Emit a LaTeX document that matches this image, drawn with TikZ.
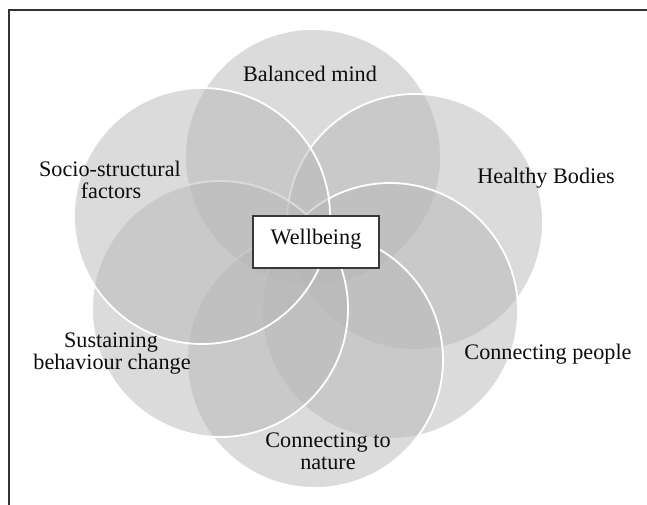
\documentclass[tikz,border=0pt]{standalone}
\usepackage{fontspec}
\setmainfont{Liberation Serif}
\begin{document}
\begin{tikzpicture}[x=1pt,y=-1pt,
  petal/.style={circle, inner sep=0pt, minimum size=256pt, fill=black!28, fill opacity=0.5, draw=white, draw opacity=1, line width=1.8pt},
  lbl/.style={font=\fontsize{22.2}{21.5}\selectfont, text=black!95, inner sep=0pt, anchor=base},
  wbox/.style={draw=black!78, line width=1.2pt, fill=white, minimum width=126pt, minimum height=52pt, inner sep=0pt, text height=10pt, text depth=6pt, font=\fontsize{22.2}{21.5}\selectfont, text=black!95},
  frameline/.style={draw=black!80, line width=1.4pt}
]
\useasboundingbox (0,0) rectangle (647,505);
\fill[white] (0,0) rectangle (647,505);
% frame
\coordinate (fl) at (9,505);
\coordinate (ftl) at (9,10);
\coordinate (ftr) at (647,10);
\draw[frameline] (fl) -- (ftl) -- (ftr);
% petals (drawn in order)
\node[petal] (cB)  at (313,157) {};
\node[petal] (cH)  at (415,222) {};
\node[petal] (cCP) at (390,311) {};
\node[petal] (cN)  at (315,360) {};
\node[petal] (cS)  at (220,309) {};
\node[petal] (cSS) at (202,216) {};
% labels
\node[lbl] (tB)   at (310,82)  {Balanced mind};
\node[lbl] (tH)   at (546,183) {Healthy Bodies};
\node[lbl] (tSS1) at (110,176.5) {Socio-structural};
\node[lbl] (tSS2) at (111,198.5) {factors};
\node[lbl] (tS1)  at (111,347.5) {Sustaining};
\node[lbl] (tS2)  at (112,369) {behaviour change};
\node[lbl] (tCP)  at (548,359) {Connecting people};
\node[lbl] (tN1)  at (328,447.5) {Connecting to};
\node[lbl] (tN2)  at (328,469) {nature};
% centre box
\node[wbox] (wb) at (316,242) {Wellbeing};
\end{tikzpicture}
\end{document}
